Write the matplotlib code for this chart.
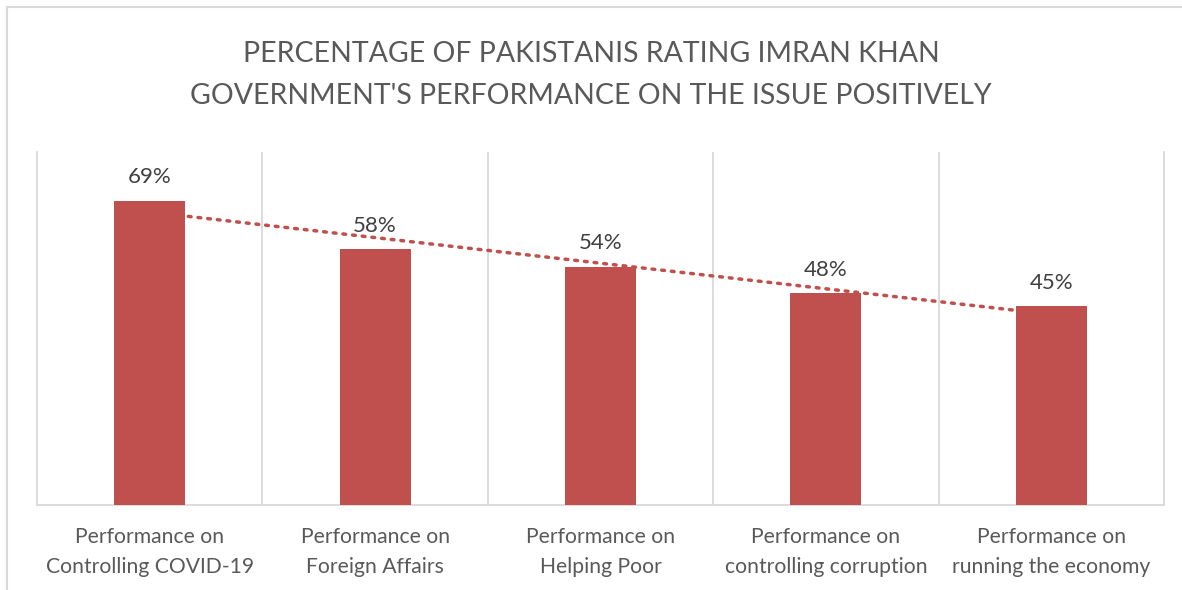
import numpy as np
import matplotlib.pyplot as plt
from matplotlib.patches import Rectangle

categorias = ['Performance on\nControlling COVID-19', 'Performance on\nForeign Affairs',
              'Performance on\nHelping Poor', 'Performance on\ncontrolling corruption',
              'Performance on\nrunning the economy']
valores = np.array([69, 58, 54, 48, 45])
titulo = "PERCENTAGE OF PAKISTANIS RATING IMRAN KHAN\nGOVERNMENT'S PERFORMANCE ON THE ISSUE POSITIVELY"

plt.rcParams['font.family'] = ['Lato', 'DejaVu Sans']

fig = plt.figure(figsize=(11.82, 5.90), dpi=100)
W, H = 1182, 590
ax = fig.add_axes([37 / W, 1 - 505 / H, (1164 - 37) / W, (505 - 152) / H])

x = np.arange(len(valores))
ax.bar(x, valores, width=0.315, color='#C0504D', zorder=3)

# linha de tendencia linear (estilo Excel)
coef = np.polyfit(x, valores, 1)
ax.plot(x, np.polyval(coef, x), color='#C0504D', linestyle=(0, (0.8, 2.0)),
        linewidth=2.5, dash_capstyle='round', zorder=2)

for xi, v in zip(x, valores):
    ax.text(xi, v + 3.0, f'{v}%', ha='center', va='bottom', fontsize=16,
            color='#404040', zorder=4)

ax.set_xlim(-0.5, len(valores) - 0.5)
ax.set_ylim(0, 80)
ax.set_yticks([])
ax.set_xticks(x)
ax.set_xticklabels(categorias, fontsize=15.2, color='#595959', linespacing=1.6)
ax.tick_params(axis='x', length=0, pad=16)
for b in np.arange(0.5, len(valores) - 0.5):
    ax.axvline(b, color='#D9D9D9', linewidth=1.3, zorder=1)
for s in ['top']:
    ax.spines[s].set_visible(False)
for s in ['left', 'right', 'bottom']:
    ax.spines[s].set_color('#D9D9D9')
    ax.spines[s].set_linewidth(1.3)

fig.text(0.5, 1 - 75 / H, titulo, ha='center', va='center', fontsize=20.5,
         color='#595959', linespacing=1.8)

# borda externa do grafico
fig.patches.append(Rectangle((7 / W, -0.05), 1.2, 1 - 7 / H + 0.05, transform=fig.transFigure,
                             fill=False, edgecolor='#D9D9D9', linewidth=1.5))

plt.savefig('out.png', dpi=100)
